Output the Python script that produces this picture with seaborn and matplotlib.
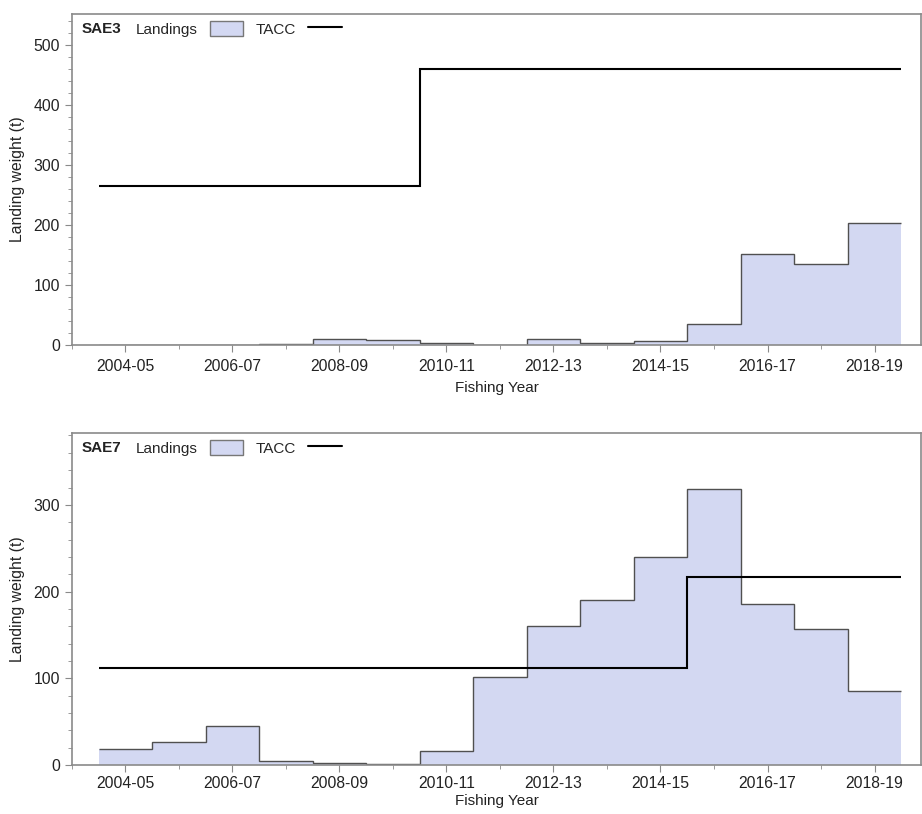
import numpy as np
import pandas as pd
import matplotlib
matplotlib.use("Agg")
import matplotlib.pyplot as plt
import seaborn as sns
from matplotlib.patches import Patch
from matplotlib.lines import Line2D
from matplotlib.ticker import MultipleLocator

# Fishing years
years = ["2004-05", "2005-06", "2006-07", "2007-08", "2008-09", "2009-10", "2010-11",
         "2011-12", "2012-13", "2013-14", "2014-15", "2015-16", "2016-17", "2017-18", "2018-19"]

# SAE3 landings and TACC (t)
sae3_landings = [0, 0, 0, 2, 10, 8, 3, 0.5, 10, 3, 6, 35, 151, 134, 203]
sae3_tacc = [265, 265, 265, 265, 265, 265, 460, 460, 460, 460, 460, 460, 460, 460, 460]

# SAE7 landings and TACC (t)
sae7_landings = [19, 27, 45, 5, 2, 1, 16, 101, 160, 190, 240, 318, 186, 157, 85]
sae7_tacc = [112, 112, 112, 112, 112, 112, 112, 112, 112, 112, 112, 217, 217, 217, 217]

sns.set_style("ticks")
plt.rcParams["font.family"] = ["Liberation Sans", "DejaVu Sans"]

fill_col = "#d3d8f2"
edge_col = "#505050"
spine_col = "#8a8a8a"

fig = plt.figure(figsize=(9.22, 8.14), dpi=100)
ax1 = fig.add_axes([0.078, 0.5762, 0.921, 0.4066])
ax2 = fig.add_axes([0.078, 0.0602, 0.921, 0.408])

idx = np.arange(len(years))
edges = np.arange(len(years) + 1) - 0.5

panels = [
    (ax1, "SAE3", sae3_landings, sae3_tacc, 551, 500, 5, 5),
    (ax2, "SAE7", sae7_landings, sae7_tacc, 383, 300, 3, 2),
]

for ax, stock, landings, tacc, ytop, ymaxtick, tpad, lpad in panels:
    df = pd.DataFrame({"idx": idx, "Landings": landings, "TACC": tacc})
    # filled landings
    sns.histplot(data=df, x="idx", weights="Landings", discrete=True, element="step",
                 fill=True, color=fill_col, alpha=1, linewidth=0, ax=ax)
    # landings outline (top edge only) and TACC step line
    ax.stairs(df["Landings"], edges, baseline=None, color=edge_col, linewidth=1.0)
    ax.stairs(df["TACC"], edges, baseline=None, color="black", linewidth=1.5)

    ax.set_xlim(-1.0, 14.87)
    ax.set_ylim(0, ytop)
    ax.set_xticks(idx[::2])
    ax.set_xticklabels(years[::2])
    ax.xaxis.set_minor_locator(MultipleLocator(1))
    ax.set_yticks(np.arange(0, ymaxtick + 1, 100))
    ax.yaxis.set_minor_locator(MultipleLocator(20))
    ax.tick_params(axis="both", which="major", labelsize=11.3, length=5, color=spine_col,
                   labelcolor="#222222")
    ax.tick_params(axis="x", which="major", pad=tpad)
    ax.tick_params(axis="both", which="minor", length=3, color=spine_col)
    ax.set_xlabel("Fishing Year", fontsize=11, color="#222222", labelpad=lpad)
    ax.set_ylabel("Landing weight (t)", fontsize=11.3, color="#222222", labelpad=6)
    for s in ax.spines.values():
        s.set_color(spine_col)
        s.set_linewidth(1.2)
    ax.grid(False)

    ax.text(0.011, 0.955, stock, transform=ax.transAxes, fontsize=11, fontweight="bold",
            va="center", ha="left", color="#222222")
    handles = [Patch(facecolor=fill_col, edgecolor="#777777", linewidth=1.0),
               Line2D([0], [0], color="black", linewidth=1.5)]
    ax.legend(handles, ["Landings", "TACC"], ncol=2, markerfirst=False, frameon=False,
              loc="center left", bbox_to_anchor=(0.075, 0.955), fontsize=11,
              handlelength=2.2, handleheight=1.1, handletextpad=0.8, columnspacing=0.8,
              borderpad=0, borderaxespad=0)

fig.savefig("out.png", dpi=100)
